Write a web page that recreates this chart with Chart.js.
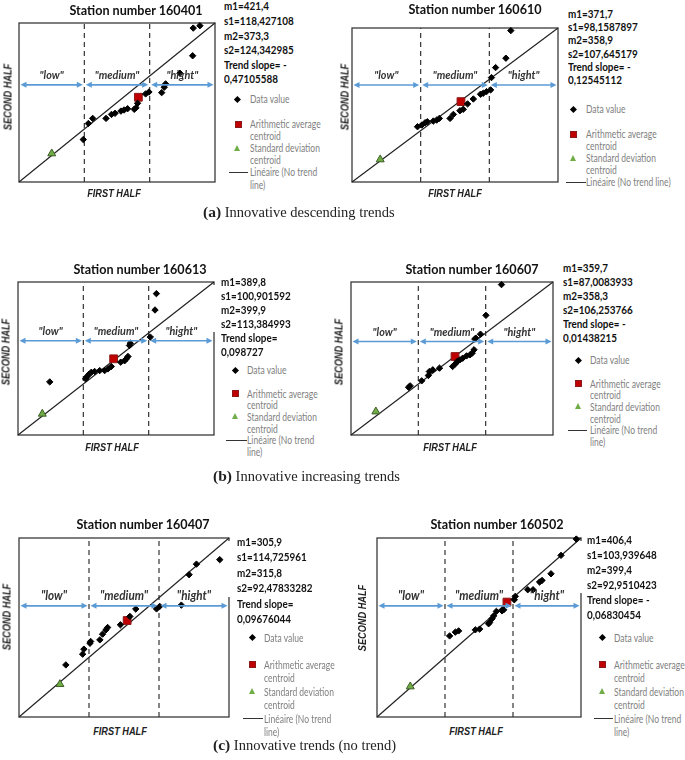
<!DOCTYPE html>
<html>
<head>
<meta charset="utf-8">
<script src="https://cdn.jsdelivr.net/npm/chart.js@4.4.1/dist/chart.umd.min.js"></script>
<style>
  body { margin: 0; width: 685px; height: 760px; position: relative; overflow: hidden; background: #fff; font-family: Lato, "Open Sans", sans-serif; }
  canvas, .txt, .mk { position: absolute; }
  .txt { white-space: nowrap; }
  .title { font-weight: 700; font-size: 14px; color: #111; transform: translate(-50%, -50%) scaleX(0.9); }
  .stats { font-weight: 700; font-size: 11.5px; color: #111; transform-origin: left top; transform: scaleX(0.86); }
  .cover { position: absolute; background: #fff; }
  .axis { font-family: "Liberation Sans", Arial, sans-serif; font-weight: 700; font-style: italic; font-size: 10px; color: #222; transform: translate(-50%, -50%) scaleX(0.92); }
  .axis.rot { transform: translate(-50%, -50%) rotate(-90deg) scaleX(0.92); }
  .leg { font-size: 11.5px; color: #7f7f7f; transform-origin: left top; transform: scaleX(0.74); }
  .caption { font-family: "Liberation Serif", "Times New Roman", serif; font-size: 14.5px; color: #222; transform: translateY(-50%); }
  .caption b { font-size: 15.5px; }
</style>
</head>
<body>
<script>
// shared axis / zone settings (values in % of the axis range)
const axisMin = 0, axisMax = 100;
const zoneLimits = [33.33, 66.67];
const zoneLabels = ['"low"', '"medium"', '"hight"'];

// (a) station 160401
const x160401 = [88.9, 92.3, 88.6, 82.1, 74.8, 74.1, 72.8, 66.3, 64.6, 60.5, 59.7, 58.8, 55.4, 53.6, 52.0, 49.0, 47.2, 44.4, 37.6, 35.4, 32.8];
const y160401 = [96.8, 98.3, 79.4, 68.4, 61.7, 59.6, 56.2, 56.6, 55.4, 49.5, 46.7, 45.7, 46.1, 45.3, 44.6, 43.2, 42.5, 40.0, 40.0, 36.8, 26.7];
const mean160401 = [60.9, 53.3];
const sd160401 = [16.7, 17.9];
const stats160401 = ["m1=421,4", "s1=118,427108", "m2=373,3", "s2=124,342985", "Trend slope= -", "0,47105588"];

// (a) station 160610
const x160610 = [77.1, 74.7, 69.7, 67.7, 67.3, 65.3, 63.7, 62.4, 58.9, 56.1, 54.0, 52.4, 49.2, 47.6, 42.4, 41.1, 39.5, 36.6, 35.5, 33.9, 31.8];
const y160610 = [98.3, 80.4, 74.3, 67.8, 59.8, 58.7, 57.6, 57.0, 53.9, 50.7, 47.2, 46.3, 43.9, 41.3, 41.3, 40.2, 39.6, 39.1, 38.5, 37.0, 35.9];
const mean160610 = [52.9, 52.2];
const sd160610 = [13.7, 14.6];
const stats160610 = ["m1=371,7", "s1=98,1587897", "m2=358,9", "s2=107,645179", "Trend slope= -", "0,12545112"];

// (b) station 160613
const x160613 = [70.6, 69.9, 67.5, 57.3, 56.9, 56.1, 55.3, 54.4, 52.4, 47.6, 45.9, 44.2, 41.7, 39.1, 37.4, 36.2, 35.2, 34.5, 16.2];
const y160613 = [92.4, 81.7, 64.0, 60.0, 58.5, 51.3, 49.8, 48.5, 47.6, 44.8, 43.2, 42.1, 42.1, 41.5, 41.0, 39.7, 38.2, 36.7, 34.7];
const mean160613 = [48.8, 49.8];
const sd160613 = [12.4, 13.8];
const stats160613 = ["m1=389,8", "s1=100,901592", "m2=399,9", "s2=113,384993", "Trend slope=", "0,098727"];

// (b) station 160607
const x160607 = [74.5, 66.8, 64.1, 61.8, 61.3, 60.9, 60.0, 58.9, 57.2, 55.3, 53.9, 52.6, 51.5, 50.3, 43.8, 40.5, 38.8, 38.3, 35.0, 29.3, 28.5];
const y160607 = [98.3, 78.2, 65.9, 63.3, 62.7, 55.7, 53.5, 52.4, 51.7, 50.2, 49.1, 48.0, 46.3, 44.8, 43.7, 42.6, 41.5, 38.9, 35.4, 32.1, 31.2];
const mean160607 = [51.5, 51.3];
const sd160607 = [12.3, 15.3];
const stats160607 = ["m1=359,7", "s1=87,0083933", "m2=358,3", "s2=106,253766", "Trend slope= -", "0,01438215"];

// (c) station 160407
const x160407 = [95.6, 84.5, 81.0, 77.3, 67.0, 65.5, 55.6, 52.8, 48.3, 42.2, 41.4, 39.8, 38.5, 34.1, 33.8, 30.9, 30.3, 22.3];
const y160407 = [87.9, 85.4, 79.5, 62.5, 61.8, 60.4, 60.3, 56.2, 51.5, 50.0, 48.7, 46.3, 43.1, 42.2, 41.2, 37.9, 35.1, 29.1];
const mean160407 = [51.5, 53.9];
const sd160407 = [19.5, 18.3];
const stats160407 = ["m1=305,9", "s1=114,725961", "m2=315,8", "s2=92,47833282", "Trend slope=", "0,09676044"];

// (c) station 160502
const x160502 = [97.7, 90.2, 85.3, 80.9, 79.7, 76.5, 73.9, 67.8, 67.3, 62.1, 61.3, 58.5, 57.2, 56.4, 55.2, 54.7, 50.3, 48.2, 40.0, 38.4, 35.6];
const y160502 = [99.4, 90.3, 80.0, 76.3, 75.4, 71.1, 71.1, 67.4, 65.5, 59.9, 59.3, 59.0, 56.5, 54.9, 52.8, 52.1, 49.1, 48.7, 48.1, 47.4, 45.3];
const mean160502 = [63.7, 64.2];
const sd160502 = [16.3, 17.0];
const stats160502 = ["m1=406,4", "s1=103,939648", "m2=399,4", "s2=92,9510423", "Trend slope= -", "0,06830454"];

// blue arrow height per station (% of second-half axis)
const level160401 = 61.1, level160610 = 63.0, level160613 = 61.6, level160607 = 61.1, level160407 = 62.1, level160502 = 62.1;

const captions = [
  ["(a)", "Innovative descending trends", 203, 212],
  ["(b)", "Innovative increasing trends", 213, 476],
  ["(c)", "Innovative trends (no trend)", 213, 745],
];

// page layout of each panel
const panels = [
  { id: "160401", xs: x160401, ys: y160401, mean: mean160401, sd: sd160401, stats: stats160401, level: level160401,
    box: [19, 23, 196, 159], title: [135.5, 9.3], statsAt: [224, 6.7, 14.6], cover: 0, zoneFont: 12,
    legend: [237.7, 250, 99.3, 12.2, 229, 248], wrap: true, first: [114, 192.7], second: [8.3, 97] },
  { id: "160610", xs: x160610, ys: y160610, mean: mean160610, sd: sd160610, stats: stats160610, level: level160610,
    box: [352, 28, 206, 154], title: [474.7, 8.3], statsAt: [568, 13.3, 13.3], cover: 0, zoneFont: 12,
    legend: [573.3, 586, 109.3, 12.2, 566, 586], wrap: false, first: [455, 192.7], second: [345, 97] },
  { id: "160613", xs: x160613, ys: y160613, mean: mean160613, sd: sd160613, stats: stats160613, level: level160613,
    box: [18, 282, 196, 153], title: [139.7, 268], statsAt: [221, 281.7, 14], cover: 332, zoneFont: 12,
    legend: [235, 247, 370, 11.7, 226, 246.7], wrap: true, first: [112, 447.3], second: [5.5, 352] },
  { id: "160607", xs: x160607, ys: y160607, mean: mean160607, sd: sd160607, stats: stats160607, level: level160607,
    box: [351, 282, 202, 153], title: [472.3, 268], statsAt: [562.7, 268.3, 14], cover: 0, zoneFont: 12,
    legend: [578.3, 590, 360, 11.7, 568.3, 586.7], wrap: true, first: [450, 447], second: [339, 352] },
  { id: "160407", xs: x160407, ys: y160407, mean: mean160407, sd: sd160407, stats: stats160407, level: level160407,
    box: [19, 538, 210, 179], title: [143, 522.7], statsAt: [236.7, 541.7, 15.5], cover: 597, zoneFont: 13,
    legend: [252.3, 264.3, 637.3, 13.5, 243, 263], wrap: true, first: [120, 731], second: [6.7, 617] },
  { id: "160502", xs: x160502, ys: y160502, mean: mean160502, sd: sd160502, stats: stats160502, level: level160502,
    box: [377, 538, 204, 179], title: [496.5, 522.7], statsAt: [587.3, 539.3, 15], cover: 593, zoneFont: 13,
    legend: [602.3, 614, 637.3, 13.5, 594, 613], wrap: true, first: [476, 731], second: [361.7, 618] },
];

const PAD = 8;

const framePlugin = {
  id: "frame",
  beforeDatasetsDraw(chart) {
    const { ctx, chartArea: a } = chart;
    ctx.save();
    ctx.strokeStyle = "#3a3a3a";
    ctx.lineWidth = 1.3;
    ctx.strokeRect(a.left, a.top, a.right - a.left, a.bottom - a.top);
    ctx.restore();
  },
};

function arrowHead(ctx, x, y, dir) {
  ctx.beginPath();
  ctx.moveTo(x, y);
  ctx.lineTo(x - dir * 6, y - 3);
  ctx.lineTo(x - dir * 6, y + 3);
  ctx.closePath();
  ctx.fill();
}

// blue double arrows over the three first-half classes + their labels
const zonesPlugin = {
  id: "zones",
  afterDatasetsDraw(chart, args, opts) {
    const { ctx, scales: { x, y } } = chart;
    const yy = y.getPixelForValue(opts.level);
    const edges = [axisMin, ...zoneLimits, axisMax].map(v => x.getPixelForValue(v));
    ctx.save();
    ctx.strokeStyle = ctx.fillStyle = "#5b9bd5";
    ctx.lineWidth = 1.6;
    for (let i = 0; i < 3; i++) {
      const x1 = edges[i] + 1.5, x2 = edges[i + 1] - 1.5;
      ctx.beginPath();
      ctx.moveTo(x1 + 4, yy);
      ctx.lineTo(x2 - 4, yy);
      ctx.stroke();
      arrowHead(ctx, x1, yy, -1);
      arrowHead(ctx, x2, yy, 1);
    }
    ctx.fillStyle = "#333";
    ctx.font = `italic bold ${opts.fontSize}px Lato`;
    ctx.textAlign = "center";
    for (let i = 0; i < 3; i++) {
      const cx = (edges[i] + edges[i + 1]) / 2;
      ctx.save();
      ctx.translate(cx, yy - 6);
      ctx.scale(0.9, 1);
      ctx.fillText(zoneLabels[i], 0, 0);
      ctx.restore();
    }
    ctx.restore();
  },
};

function addDiv(cls, html, css) {
  const d = document.createElement("div");
  d.className = cls;
  d.innerHTML = html;
  Object.assign(d.style, css);
  document.body.appendChild(d);
  return d;
}

function buildPanel(p) {
  const [l, t, w, h] = p.box;
  const cv = document.createElement("canvas");
  cv.width = w + 2 * PAD;
  cv.height = h + 2 * PAD;
  cv.style.left = (l - PAD) + "px";
  cv.style.top = (t - PAD) + "px";
  document.body.appendChild(cv);

  const line = (x0, y0, x1, y1, dash) => ({
    data: [{ x: x0, y: y0 }, { x: x1, y: y1 }],
    showLine: true,
    pointRadius: 0,
    borderColor: dash ? "#333" : "#222",
    borderWidth: 1.2,
    borderDash: dash ? [5, 4] : [],
    clip: false,
  });

  new Chart(cv, {
    type: "scatter",
    data: {
      datasets: [
        {
          label: "Data value",
          data: p.xs.map((x, i) => ({ x, y: p.ys[i] })),
          pointStyle: "rectRot",
          pointRadius: 3.2,
          backgroundColor: "#000",
          borderColor: "#000",
          borderWidth: 1,
          clip: false,
        },
        {
          label: "Arithmetic average centroid",
          data: [{ x: p.mean[0], y: p.mean[1] }],
          pointStyle: "rect",
          pointRadius: 5.5,
          backgroundColor: "#c00000",
          borderColor: "#8b1a1a",
          borderWidth: 1,
          clip: false,
        },
        {
          label: "Standard deviation centroid",
          data: [{ x: p.sd[0], y: p.sd[1] }],
          pointStyle: "triangle",
          pointRadius: 4.6,
          backgroundColor: "#70ad47",
          borderColor: "#3d5f27",
          borderWidth: 1,
          clip: false,
        },
        line(axisMin, axisMin, axisMax, axisMax, false),
        line(zoneLimits[0], axisMin, zoneLimits[0], axisMax, true),
        line(zoneLimits[1], axisMin, zoneLimits[1], axisMax, true),
      ],
    },
    options: {
      responsive: false,
      animation: false,
      events: [],
      layout: { padding: PAD },
      plugins: {
        legend: { display: false },
        tooltip: { enabled: false },
        zones: { level: p.level, fontSize: p.zoneFont },
      },
      scales: {
        x: { type: "linear", min: axisMin, max: axisMax, display: false },
        y: { type: "linear", min: axisMin, max: axisMax, display: false },
      },
    },
    plugins: [framePlugin, zonesPlugin],
  });

  // white text box hiding the right frame edge
  if (p.cover) {
    addDiv("cover", "", { left: (l + w - 1.5) + "px", top: (t + 3) + "px", width: "5px", height: (p.cover - t - 3) + "px" });
  }

  addDiv("txt title", "Station number " + p.id, { left: p.title[0] + "px", top: p.title[1] + "px" });

  const [sx, sy, slh] = p.statsAt;
  addDiv("txt stats", p.stats.join("<br>"), { left: sx + "px", top: (sy - slh / 2) + "px", lineHeight: slh + "px" });

  const [mx, tx, ly, llh, ls, le] = p.legend;
  const lines = ["Data value", "&nbsp;", "Arithmetic average", "centroid", "Standard deviation", "centroid"];
  if (p.wrap) lines.push("Linéaire (No trend", "line)");
  else lines.push("Linéaire (No trend line)");
  addDiv("txt leg", lines.join("<br>"), { left: tx + "px", top: (ly - llh / 2) + "px", lineHeight: llh + "px" });

  // legend symbols
  addDiv("mk", "", { left: (mx - 2.4) + "px", top: (ly - 2.4) + "px", width: "4.8px", height: "4.8px", background: "#000", transform: "rotate(45deg)" });
  addDiv("mk", "", { left: (mx - 3.2) + "px", top: (ly + 2 * llh - 3.2) + "px", width: "5px", height: "5px", background: "#c00000", border: "0.8px solid #8b1a1a" });
  addDiv("mk", "", { left: (mx - 3.5) + "px", top: (ly + 4 * llh - 3.5) + "px", width: 0, height: 0,
    borderLeft: "3.5px solid transparent", borderRight: "3.5px solid transparent", borderBottom: "6.5px solid #70ad47" });
  addDiv("mk", "", { left: ls + "px", top: (ly + 6 * llh - 0.6) + "px", width: (le - ls) + "px", height: "1.3px", background: "#333" });

  addDiv("txt axis", "FIRST HALF", { left: p.first[0] + "px", top: p.first[1] + "px" });
  addDiv("txt axis rot", "SECOND HALF", { left: p.second[0] + "px", top: p.second[1] + "px" });
}

panels.forEach(buildPanel);

captions.forEach(([tag, text, x, y]) => {
  addDiv("txt caption", `<b>${tag}</b> ${text}`, { left: x + "px", top: y + "px" });
});
</script>
</body>
</html>
